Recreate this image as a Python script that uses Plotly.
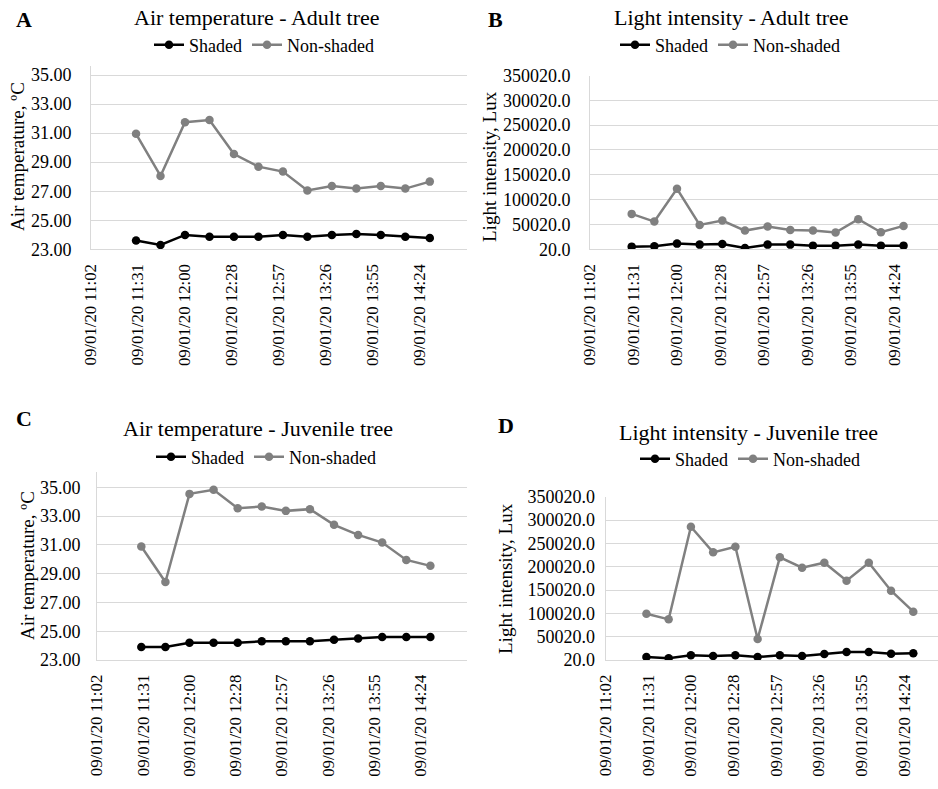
import plotly.graph_objects as go

W, H = 938, 789

# ---- data ----
times = ["2020-09-01 11:30", "2020-09-01 11:45", "2020-09-01 12:00", "2020-09-01 12:15",
         "2020-09-01 12:30", "2020-09-01 12:45", "2020-09-01 13:00", "2020-09-01 13:15",
         "2020-09-01 13:30", "2020-09-01 13:45", "2020-09-01 14:00", "2020-09-01 14:15",
         "2020-09-01 14:30"]

temp_adult_shaded = [23.60, 23.30, 23.99, 23.87, 23.87, 23.87, 23.99, 23.87, 23.99, 24.06, 23.99, 23.87, 23.78]
temp_adult_nonshaded = [30.95, 28.05, 31.75, 31.90, 29.56, 28.69, 28.35, 27.05, 27.36, 27.18, 27.36, 27.18, 27.66]

light_adult_shaded = [5400, 6060, 11460, 9440, 10770, 2700, 9440, 9440, 7420, 7420, 9440, 7420, 7420]
light_adult_nonshaded = [71350, 55860, 121820, 49140, 57900, 37700, 45780, 39050, 37700, 33670, 60590, 34340, 47130]

temp_juv_shaded = [23.90, 23.90, 24.20, 24.20, 24.20, 24.30, 24.30, 24.30, 24.40, 24.50, 24.60, 24.60, 24.60]
temp_juv_nonshaded = [30.88, 28.42, 34.54, 34.82, 33.54, 33.66, 33.36, 33.48, 32.39, 31.69, 31.16, 29.95, 29.54]

light_juv_shaded = [6450, 3590, 10020, 8590, 10020, 6450, 10020, 8590, 12880, 17160, 17160, 13590, 14300]
light_juv_nonshaded = [99300, 87160, 285730, 230730, 242870, 45020, 220020, 197870, 208590, 170020, 208590, 148590, 103590]

x_tickvals = ["2020-09-01 11:02:24", "2020-09-01 11:31:12", "2020-09-01 12:00:00", "2020-09-01 12:28:48",
              "2020-09-01 12:57:36", "2020-09-01 13:26:24", "2020-09-01 13:55:12", "2020-09-01 14:24:00"]
x_ticktext = ["09/01/20 11:02", "09/01/20 11:31", "09/01/20 12:00", "09/01/20 12:28",
              "09/01/20 12:57", "09/01/20 13:26", "09/01/20 13:55", "09/01/20 14:24"]

temp_ticks = [23, 25, 27, 29, 31, 33, 35]
temp_ticktext = ["23.00", "25.00", "27.00", "29.00", "31.00", "33.00", "35.00"]
light_ticks = [20, 50020, 100020, 150020, 200020, 250020, 300020, 350020]
light_ticktext = ["20.0", "50020.0", "100020.0", "150020.0", "200020.0", "250020.0", "300020.0", "350020.0"]

series_names = ["Shaded", "Non-shaded"]
titles = ["Air temperature - Adult tree", "Light intensity - Adult tree",
          "Air temperature - Juvenile tree", "Light intensity - Juvenile tree"]
letters = ["A", "B", "C", "D"]
ytitles = ["Air temperature, ºC", "Light intensity, Lux", "Air temperature, ºC", "Light intensity, Lux"]

# ---- layout helpers ----
FONT = "Liberation Serif"
BLACK = "#000000"
GRAY = "#808080"
GRID = "#d9d9d9"


def px_x(p):
    return min(1.0, p / W)


def px_y(p):
    return 1 - p / H


panels = [
    dict(s=temp_adult_shaded, n=temp_adult_nonshaded, xd=(91, 467), yd=(66, 249.3), yr=[23, 35.62],
         tv=temp_ticks, tt=temp_ticktext, xend="2020-09-01 14:52:48", so=15,
         title=(257, 18), letter=(24, 20), legend=(264, 45), ytitle=(18, 157)),
    dict(s=light_adult_shaded, n=light_adult_nonshaded, xd=(590, 938), yd=(75.5, 249.3), yr=[20, 350020],
         tv=light_ticks, tt=light_ticktext, xend="2020-09-01 14:52:48", so=15,
         title=(731, 18), letter=(495, 20), legend=(730, 45), ytitle=(490, 166)),
    dict(s=temp_juv_shaded, n=temp_juv_nonshaded, xd=(97, 467), yd=(472, 660), yr=[23, 36.06],
         tv=temp_ticks, tt=temp_ticktext, xend="2020-09-01 14:52:48", so=12,
         title=(258, 428), letter=(24, 418), legend=(266, 457), ytitle=(27, 566)),
    dict(s=light_juv_shaded, n=light_juv_nonshaded, xd=(605.5, 938), yd=(496.7, 660), yr=[20, 350020],
         tv=light_ticks, tt=light_ticktext, xend="2020-09-01 14:46:40", so=6,
         title=(748, 432), letter=(506, 425), legend=(750, 459), ytitle=(505, 578)),
]

fig = go.Figure()
annotations = []
layout_updates = {}

for i, p in enumerate(panels):
    k = "" if i == 0 else str(i + 1)
    xa, ya = "x" + k, "y" + k
    lg = "legend" + k
    for name, vals, col in [(series_names[0], p["s"], BLACK), (series_names[1], p["n"], GRAY)]:
        fig.add_trace(go.Scatter(
            x=times, y=vals, name=name, mode="lines+markers",
            line=dict(color=col, width=2.5),
            marker=dict(color=col, size=8.5),
            xaxis=xa, yaxis=ya, legend=lg, showlegend=True,
        ))
    layout_updates["xaxis" + k] = dict(
        domain=[px_x(p["xd"][0]), px_x(p["xd"][1])], anchor=ya, type="date",
        range=["2020-09-01 11:02:24", p["xend"]], automargin=False,
        tickmode="array", tickvals=x_tickvals, ticktext=x_ticktext, tickangle=-90,
        showgrid=False, showline=True, linecolor=GRID, linewidth=1, zeroline=False,
        ticks="", ticklabelstandoff=7,
        tickfont=dict(family=FONT, size=16.8, color=BLACK),
    )
    layout_updates["yaxis" + k] = dict(
        domain=[px_y(p["yd"][1]), px_y(p["yd"][0])], anchor=xa, automargin=False,
        range=p["yr"], tickmode="array", tickvals=p["tv"], ticktext=p["tt"],
        showgrid=True, gridcolor=GRID, gridwidth=1, showline=True, linecolor=GRID, linewidth=1,
        zeroline=False, ticks="", ticklabelstandoff=p["so"],
        tickfont=dict(family=FONT, size=18, color=BLACK),
    )
    layout_updates[lg] = dict(
        x=px_x(p["legend"][0]), y=px_y(p["legend"][1]), xanchor="center", yanchor="middle",
        orientation="h", font=dict(family=FONT, size=18, color=BLACK),
        bgcolor="rgba(0,0,0,0)", itemwidth=30, tracegroupgap=0,
    )
    annotations.append(dict(
        text=titles[i], x=px_x(p["title"][0]), y=px_y(p["title"][1]), xref="paper", yref="paper",
        xanchor="center", yanchor="middle", showarrow=False,
        font=dict(family=FONT, size=22, color=BLACK)))
    annotations.append(dict(
        text="<b>" + letters[i] + "</b>", x=px_x(p["letter"][0]), y=px_y(p["letter"][1]),
        xref="paper", yref="paper", xanchor="center", yanchor="middle", showarrow=False,
        font=dict(family=FONT, size=22, color=BLACK)))
    annotations.append(dict(
        text=ytitles[i], x=px_x(p["ytitle"][0]), y=px_y(p["ytitle"][1]), xref="paper", yref="paper",
        xanchor="center", yanchor="middle", showarrow=False, textangle=-90,
        font=dict(family=FONT, size=19, color=BLACK)))

fig.update_layout(
    width=W, height=H, margin=dict(l=0, r=0, t=0, b=0, pad=0, autoexpand=False),
    paper_bgcolor="white", plot_bgcolor="white",
    font=dict(family=FONT, color=BLACK),
    annotations=annotations, **layout_updates,
)

# remove the default 8px page margin so the 938x789 figure fills the window exactly
fig.write_html("out.html", config={"displayModeBar": False},
               post_script="document.body.style.margin='0';document.body.style.overflow='hidden';")
